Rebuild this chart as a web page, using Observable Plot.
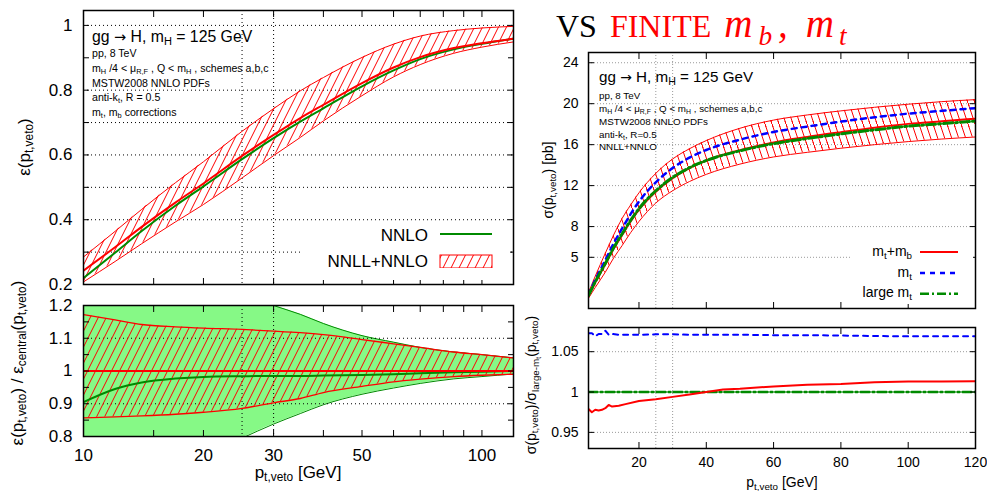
<!DOCTYPE html>
<html><head><meta charset="utf-8">
<script src="https://cdn.jsdelivr.net/npm/d3@7"></script>
<script src="https://cdn.jsdelivr.net/npm/@observablehq/plot@0.6"></script>
<style>
body{margin:0;background:#fff;}
#root{position:relative;width:987px;height:491px;overflow:hidden;font-family:"Liberation Sans",Arial,sans-serif;color:#000;background:#fff;}
.abs{position:absolute;white-space:nowrap;line-height:1;}
.rot{transform:translate(-50%,-50%) rotate(-90deg);}
.ctr{transform:translate(-50%,-50%);}
sub{font-size:70%;vertical-align:-0.3em;line-height:0;}
.box{position:absolute;background:#fff;}
.arr{font-family:"DejaVu Sans",sans-serif;font-size:92%;}
</style></head><body><div id="root">
<svg width="0" height="0" style="position:absolute"><defs>
<pattern id="hatchL" patternUnits="userSpaceOnUse" width="8" height="16"><path d="M0,16 L8,0 M-1,2 L1,-2 M7,18 L9,14" stroke="#ff0000" stroke-width="1" fill="none"/></pattern>
<pattern id="hatchR" patternUnits="userSpaceOnUse" width="7" height="21"><path d="M0,0 L7,21 M-1,-3 L1,3 M6,18 L8,24" stroke="#ff0000" stroke-width="1" fill="none"/></pattern>
</defs></svg>
</div>
<script>
// ---------- Left panels: jet-veto efficiency vs p_t,veto (log x) ----------
const ptL = [10, 12, 14, 17, 20, 25, 30, 35, 40, 50, 60, 70, 85, 100, 120];
const effCentral = [0.243, 0.315, 0.378, 0.453, 0.512, 0.597, 0.662, 0.714, 0.755, 0.822, 0.870, 0.902, 0.930, 0.945, 0.959];
const effUpper   = [0.285, 0.364, 0.432, 0.514, 0.579, 0.673, 0.743, 0.798, 0.839, 0.901, 0.942, 0.967, 0.984, 0.992, 0.997];
const effLower   = [0.208, 0.271, 0.326, 0.393, 0.447, 0.529, 0.598, 0.654, 0.705, 0.783, 0.841, 0.879, 0.914, 0.933, 0.949];
const effNNLO    = [0.220, 0.298, 0.365, 0.443, 0.503, 0.587, 0.652, 0.703, 0.744, 0.812, 0.861, 0.896, 0.926, 0.943, 0.959];

const ratioCentral = [1, 1, 1, 1, 1, 1, 1, 1, 1, 1, 1, 1, 1, 1, 1];
const ratioUpper   = [1.172, 1.156, 1.142, 1.135, 1.131, 1.127, 1.122, 1.117, 1.111, 1.096, 1.083, 1.072, 1.058, 1.050, 1.040];
const ratioLower   = [0.857, 0.860, 0.863, 0.868, 0.874, 0.886, 0.903, 0.916, 0.934, 0.953, 0.967, 0.975, 0.983, 0.987, 0.990];
const ratioNNLO    = [0.905, 0.945, 0.965, 0.977, 0.982, 0.984, 0.985, 0.985, 0.986, 0.988, 0.990, 0.993, 0.996, 0.998, 1.000];
const nnloBandUpper = [1.45, 1.40, 1.36, 1.31, 1.28, 1.235, 1.200, 1.173, 1.145, 1.108, 1.088, 1.072, 1.058, 1.050, 1.040];
const nnloBandLower = [0.55, 0.60, 0.65, 0.70, 0.74, 0.795, 0.838, 0.870, 0.897, 0.929, 0.948, 0.962, 0.976, 0.983, 0.991];

const ptTickMarks = [10, 15, 20, 30, 40, 50, 60, 70, 80, 90, 100];
const ptTickLabels = [10, 20, 30, 50, 70, 100];
const vetoCuts = [25, 30];
const effTickMarks = [0.2, 0.3, 0.4, 0.5, 0.6, 0.7, 0.8, 0.9, 1.0];
const effTickLabels = [0.2, 0.4, 0.6, 0.8, 1];
const effGrid = [0.3, 0.4, 0.5, 0.6, 0.7, 0.8, 1.0];
const ratioTickMarks = [0.8, 0.85, 0.9, 0.95, 1.0, 1.05, 1.1, 1.15, 1.2];
const ratioTickLabels = [0.8, 0.9, 1, 1.1, 1.2];
const ratioGrid = [0.9, 1.1];

// ---------- Right panels: cross section vs p_t,veto (linear x) ----------
const ptR = [5, 7, 10, 12.5, 15, 17.5, 20, 25, 30, 35, 40, 50, 60, 70, 80, 90, 100, 110, 120];
const sigLargeMt = [1.27, 2.60, 4.40, 5.95, 7.30, 8.60, 9.75, 11.50, 12.80, 13.75, 14.45, 15.40, 16.10, 16.60, 17.05, 17.45, 17.80, 18.05, 18.30];
const sigMtMb    = [1.24, 2.54, 4.32, 5.85, 7.18, 8.49, 9.65, 11.40, 12.72, 13.71, 14.45, 15.46, 16.21, 16.75, 17.22, 17.66, 18.03, 18.28, 18.54];
const sigMt      = [1.36, 2.79, 4.72, 6.37, 7.82, 9.21, 10.44, 12.32, 13.71, 14.73, 15.48, 16.49, 17.24, 17.77, 18.25, 18.67, 19.03, 19.30, 19.57];
const sigUpper   = [1.55, 3.15, 5.40, 7.20, 8.80, 10.10, 11.30, 13.20, 14.60, 15.60, 16.40, 17.60, 18.40, 18.90, 19.30, 19.65, 19.95, 20.20, 20.40];
const sigLower   = [1.00, 2.05, 3.55, 4.95, 6.15, 7.40, 8.50, 10.30, 11.50, 12.40, 13.10, 14.10, 14.80, 15.25, 15.65, 16.00, 16.30, 16.55, 16.75];

const ptRatioR = [5, 6, 7, 8, 9, 10, 11, 12, 14, 16, 20, 25, 30, 35, 40, 45, 50, 60, 70, 80, 90, 100, 110, 120];
const rMtMb    = [0.979, 0.975, 0.978, 0.977, 0.978, 0.980, 0.984, 0.982, 0.983, 0.985, 0.989, 0.991, 0.994, 0.997, 1.000, 1.003, 1.004, 1.007, 1.009, 1.010, 1.012, 1.013, 1.013, 1.0135];
const rMt      = [1.073, 1.073, 1.069, 1.072, 1.072, 1.076, 1.071, 1.072, 1.071, 1.071, 1.071, 1.0715, 1.0715, 1.071, 1.071, 1.071, 1.071, 1.0705, 1.0705, 1.070, 1.0695, 1.069, 1.069, 1.069];
const rLargeMt = [1, 1, 1, 1, 1, 1, 1, 1, 1, 1, 1, 1, 1, 1, 1, 1, 1, 1, 1, 1, 1, 1, 1, 1];

const sigTicks = [5, 8, 12, 16, 20, 24];
const ptRTicks = [20, 40, 60, 80, 100, 120];
const rRTicks = [0.95, 1, 1.05];

// ---------- tables ----------
const tl = ptL.map((pt, i) => ({pt, c: effCentral[i], hi: effUpper[i], lo: effLower[i], nnlo: effNNLO[i]}));
const bl = ptL.map((pt, i) => ({pt, c: ratioCentral[i], hi: ratioUpper[i], lo: ratioLower[i], nnlo: ratioNNLO[i], ghi: nnloBandUpper[i], glo: nnloBandLower[i]}));
const tr = ptR.map((pt, i) => ({pt, large: sigLargeMt[i], mtmb: sigMtMb[i], mt: sigMt[i], hi: sigUpper[i], lo: sigLower[i]}));
const br = ptRatioR.map((pt, i) => ({pt, mtmb: rMtMb[i], mt: rMt[i], large: rLargeMt[i]}));

const RED = "#ff0000", GREEN = "#008a00", BLUE = "#0000ff", LGREEN = "#86f986";
const blank = () => "";
function inward(xs, ys, len) {
  return [
    Plot.axisX(xs, {anchor: "bottom", tickSize: len, dy: -len, tickFormat: blank, label: null}),
    Plot.axisX(xs, {anchor: "top", tickSize: len, dy: len, tickFormat: blank, label: null}),
    Plot.axisY(ys, {anchor: "left", tickSize: len, dx: len, tickFormat: blank, label: null}),
    Plot.axisY(ys, {anchor: "right", tickSize: len, dx: -len, tickFormat: blank, label: null})
  ];
}
const root = document.getElementById("root");
function place(svg, left, top) {
  svg.style.position = "absolute"; svg.style.left = left + "px"; svg.style.top = top + "px";
  root.appendChild(svg);
}
const fontL = {fontFamily: "'Liberation Sans', Arial, sans-serif", fontSize: "17px", background: "transparent", color: "#000", overflow: "visible"};
const fontR = {fontFamily: "'Liberation Sans', Arial, sans-serif", fontSize: "14px", background: "transparent", color: "#000", overflow: "visible"};
const dotL = {stroke: "#000", strokeOpacity: 1, strokeWidth: 1, strokeDasharray: "1,3"};
const dotR = {stroke: "#9a9a9a", strokeOpacity: 1, strokeWidth: 1, strokeDasharray: "1,2"};

// Top-left
place(Plot.plot({
  width: 520, height: 300, marginLeft: 83, marginRight: 7, marginTop: 10, marginBottom: 16,
  x: {type: "log", domain: [10, 120]}, y: {domain: [0.2, 1.046]}, style: fontL,
  marks: [
    Plot.gridY(effGrid, dotL),
    Plot.ruleX(vetoCuts, dotL),
    Plot.areaY(tl, {x: "pt", y1: "lo", y2: "hi", fill: "url(#hatchL)", curve: "monotone-x", clip: true}),
    Plot.lineY(tl, {x: "pt", y: "hi", stroke: RED, strokeWidth: 1, curve: "monotone-x", clip: true}),
    Plot.lineY(tl, {x: "pt", y: "lo", stroke: RED, strokeWidth: 1, curve: "monotone-x", clip: true}),
    Plot.lineY(tl, {x: "pt", y: "nnlo", stroke: GREEN, strokeWidth: 2, curve: "monotone-x", clip: true}),
    Plot.lineY(tl, {x: "pt", y: "c", stroke: RED, strokeWidth: 2, curve: "monotone-x", clip: true}),
    ...inward(ptTickMarks, effTickMarks, 6),
    Plot.axisY(effTickLabels, {anchor: "left", tickSize: 0, tickPadding: 11, tickFormat: d => String(d), label: null}),
    Plot.frame({stroke: "#000", strokeWidth: 1.5})
  ]
}), 0, 0);

// Bottom-left
place(Plot.plot({
  width: 520, height: 201, marginLeft: 83, marginRight: 7, marginTop: 15, marginBottom: 55,
  x: {type: "log", domain: [10, 120]}, y: {domain: [0.8, 1.2]}, style: fontL,
  marks: [
    Plot.areaY(bl, {x: "pt", y1: "glo", y2: "ghi", fill: LGREEN, curve: "monotone-x", clip: true}),
    Plot.lineY(bl, {x: "pt", y: "ghi", stroke: GREEN, strokeWidth: 1, curve: "monotone-x", clip: true}),
    Plot.lineY(bl, {x: "pt", y: "glo", stroke: GREEN, strokeWidth: 1, curve: "monotone-x", clip: true}),
    Plot.gridY(ratioGrid, dotL),
    Plot.ruleX(vetoCuts, dotL),
    Plot.areaY(bl, {x: "pt", y1: "lo", y2: "hi", fill: "url(#hatchL)", curve: "monotone-x", clip: true}),
    Plot.lineY(bl, {x: "pt", y: "hi", stroke: RED, strokeWidth: 1.3, curve: "monotone-x", clip: true}),
    Plot.lineY(bl, {x: "pt", y: "lo", stroke: RED, strokeWidth: 1.3, curve: "monotone-x", clip: true}),
    Plot.lineY(bl, {x: "pt", y: "nnlo", stroke: GREEN, strokeWidth: 2, curve: "monotone-x", clip: true}),
    Plot.lineY(bl, {x: "pt", y: "c", stroke: RED, strokeWidth: 2, clip: true}),
    ...inward(ptTickMarks, ratioTickMarks, 6),
    Plot.axisY(ratioTickLabels, {anchor: "left", tickSize: 0, tickPadding: 11, tickFormat: d => String(d), label: null}),
    Plot.axisX(ptTickLabels, {anchor: "bottom", tickSize: 0, tickPadding: 12, tickFormat: d => String(d), label: null}),
    Plot.frame({stroke: "#000", strokeWidth: 1.5})
  ]
}), 0, 290);

// Top-right
place(Plot.plot({
  width: 467, height: 280, marginLeft: 68, marginRight: 12, marginTop: 12, marginBottom: 12,
  x: {domain: [5, 120]}, y: {domain: [0, 25]}, style: fontR,
  marks: [
    Plot.gridY(sigTicks, dotR),
    Plot.ruleX(vetoCuts, dotR),
    Plot.areaY(tr, {x: "pt", y1: "lo", y2: "hi", fill: "url(#hatchR)", curve: "monotone-x", clip: true}),
    Plot.lineY(tr, {x: "pt", y: "hi", stroke: RED, strokeWidth: 1, curve: "monotone-x", clip: true}),
    Plot.lineY(tr, {x: "pt", y: "lo", stroke: RED, strokeWidth: 1, curve: "monotone-x", clip: true}),
    Plot.lineY(tr, {x: "pt", y: "mtmb", stroke: RED, strokeWidth: 2, curve: "monotone-x", clip: true}),
    Plot.lineY(tr, {x: "pt", y: "mt", stroke: BLUE, strokeWidth: 2.5, strokeDasharray: "5,5", curve: "monotone-x", clip: true}),
    Plot.lineY(tr, {x: "pt", y: "large", stroke: GREEN, strokeWidth: 3, strokeDasharray: "9,3,2,3", curve: "monotone-x", clip: true}),
    ...inward(ptRTicks, sigTicks, 6),
    Plot.axisY(sigTicks, {anchor: "left", tickSize: 0, tickPadding: 10, tickFormat: d => String(d), label: null}),
    Plot.frame({stroke: "#000", strokeWidth: 1.5})
  ]
}), 520, 40);

// Bottom-right
place(Plot.plot({
  width: 467, height: 176, marginLeft: 68, marginRight: 12, marginTop: 12, marginBottom: 43,
  x: {domain: [5, 120]}, y: {domain: [0.93, 1.08]}, style: fontR,
  marks: [
    Plot.gridY(rRTicks, dotR),
    Plot.ruleX(vetoCuts, dotR),
    Plot.lineY(br, {x: "pt", y: "large", stroke: GREEN, strokeWidth: 2.5, strokeDasharray: "9,3,2,3", clip: true}),
    Plot.lineY(br, {x: "pt", y: "mt", stroke: BLUE, strokeWidth: 2, strokeDasharray: "5,5", clip: true}),
    Plot.lineY(br, {x: "pt", y: "mtmb", stroke: RED, strokeWidth: 2, clip: true}),
    ...inward(ptRTicks, rRTicks, 6),
    Plot.axisY(rRTicks, {anchor: "left", tickSize: 0, tickPadding: 10, tickFormat: d => String(d), label: null}),
    Plot.axisX(ptRTicks, {anchor: "bottom", tickSize: 0, tickPadding: 9, tickFormat: d => String(d), label: null}),
    Plot.frame({stroke: "#000", strokeWidth: 1.5})
  ]
}), 520, 315);

// ---------- HTML text, legends ----------
function add(html, css, cls) {
  const d = document.createElement("div");
  d.className = "abs " + (cls || "");
  d.innerHTML = html;
  Object.assign(d.style, css);
  root.appendChild(d);
  return d;
}
function box(css) { const d = document.createElement("div"); d.className = "box"; Object.assign(d.style, css); root.appendChild(d); }

// Title
add('VS <span style="color:#ff0000">FINITE <i style="font-size:39px;letter-spacing:6px">m<sub>b</sub>,</i><i style="font-size:39px;letter-spacing:5px;margin-left:12px">m<sub>t</sub></i></span>',
  {left: "556px", top: "4px", fontFamily: "'Liberation Serif','DejaVu Serif',serif", fontSize: "32px", wordSpacing: "5px"});

// Axis labels
add('ε(p<sub>t,veto</sub>)', {left: "24px", top: "147px", fontSize: "17px"}, "rot");
add('ε(p<sub>t,veto</sub>) / ε<sub>central</sub>(p<sub>t,veto</sub>)', {left: "17px", top: "363px", fontSize: "17px"}, "rot");
add('p<sub>t,veto</sub> [GeV]', {left: "298px", top: "472px", fontSize: "17px"}, "ctr");
add('σ(p<sub>t,veto</sub>) [pb]', {left: "548px", top: "180px", fontSize: "14px"}, "rot");
add('σ(p<sub>t,veto</sub>)/σ<sub>large-m<sub>t</sub></sub>(p<sub>t,veto</sub>)', {left: "531px", top: "385px", fontSize: "14px"}, "rot");
add('p<sub>t,veto</sub> [GeV]', {left: "782px", top: "482px", fontSize: "14px"}, "ctr");

// Annotations top-left
add('gg <span class="arr">→</span> H, m<sub>H</sub> = 125 GeV', {left: "92px", top: "28.6px", fontSize: "15.8px"});
const tlLines = ['pp, 8 TeV', 'm<sub>H</sub> /4 &lt; μ<sub>R,F</sub> , Q &lt; m<sub>H</sub> , schemes a,b,c', 'MSTW2008 NNLO PDFs', 'anti-k<sub>t</sub>, R = 0.5', 'm<sub>t</sub>, m<sub>b</sub> corrections'];
const tlBase = [57.3, 72, 86.6, 101.2, 115.8];
tlLines.forEach((t, i) => add(t, {left: "92px", top: (tlBase[i] - 9) + "px", fontSize: "10.6px"}));

// Annotations top-right
add('gg <span class="arr">→</span> H, m<sub>H</sub> = 125 GeV', {left: "599px", top: "69.3px", fontSize: "15.2px"});
const trLines = ['pp, 8 TeV', 'm<sub>H</sub> /4 &lt; μ<sub>R,F</sub> , Q &lt; m<sub>H</sub> , schemes a,b,c', 'MSTW2008 NNLO PDFs', 'anti-k<sub>t</sub>, R=0.5', 'NNLL+NNLO'];
const trBase = [99.3, 112.3, 125.7, 137.8, 150.7];
trLines.forEach((t, i) => add(t, {left: "599px", top: (trBase[i] - 8.3) + "px", fontSize: "9.8px"}));

// Legend top-left
box({left: "300px", top: "224px", width: "210px", height: "56px"});
add('NNLO', {right: "559px", top: "226.6px", fontSize: "17px"});
add('NNLL+NNLO', {right: "559px", top: "252.6px", fontSize: "17px"});
add('<svg width="54" height="40"><line x1="1" y1="6" x2="53" y2="6" stroke="' + GREEN + '" stroke-width="2"/><rect x="1" y="27" width="52" height="13" fill="url(#hatchL)" stroke="#ff0000" stroke-width="1"/></svg>',
  {left: "439px", top: "228px"});

// Legend top-right
box({left: "852px", top: "240px", width: "121px", height: "64px"});
add('m<sub>t</sub>+m<sub>b</sub>', {right: "75px", top: "244px", fontSize: "14px"});
add('m<sub>t</sub>', {right: "75px", top: "265px", fontSize: "14px"});
add('large m<sub>t</sub>', {right: "75px", top: "285px", fontSize: "14px"});
add('<svg width="40" height="46"><line x1="0" y1="3" x2="38" y2="3" stroke="#ff0000" stroke-width="2"/><line x1="0" y1="24" x2="38" y2="24" stroke="#0000ff" stroke-width="2.5" stroke-dasharray="5,5"/><line x1="0" y1="45" x2="38" y2="45" stroke="' + GREEN + '" stroke-width="3" stroke-dasharray="9,3,2,3"/></svg>',
  {left: "920px", top: "249px"});
</script></body></html>
